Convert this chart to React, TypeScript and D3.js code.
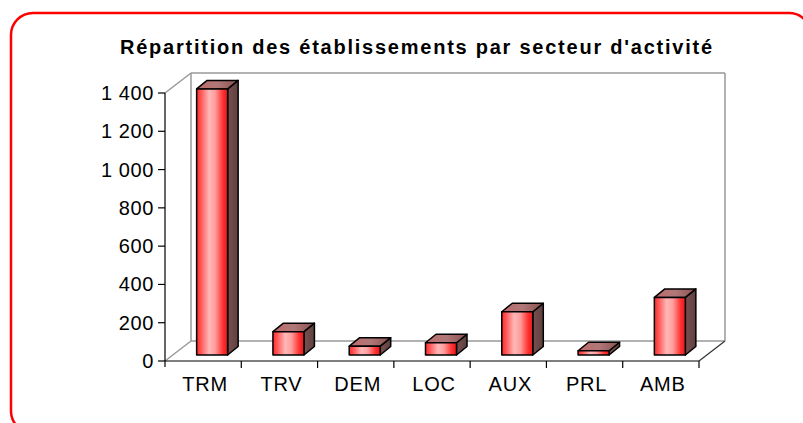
import React from "react";
import * as d3 from "d3";

const categories = ["TRM", "TRV", "DEM", "LOC", "AUX", "PRL", "AMB"];
const values = [1390, 122, 46, 64, 226, 22, 301];
const yTicks = [0, 200, 400, 600, 800, 1000, 1200, 1400];
const yTickLabels = ["0", "200", "400", "600", "800", "1 000", "1 200", "1 400"];
const title = "Répartition des établissements par secteur d'activité";

export default function App() {
  const W = 803, H = 423;
  const x0 = 165, x1 = 699, yBase = 361, yTop = 93;
  const depth = { dx: 26, dy: -20 };
  const front = { dx: 9, dy: -6 };
  const bd = { dx: 10.5, dy: -8.5 };
  const barW = 31;

  const x = d3.scaleBand<string>().domain(categories).range([x0, x1]).padding(0);
  const y = d3.scaleLinear().domain([0, 1400]).range([yBase, yTop]);
  const bw = x.bandwidth();

  const fmt = (i: number) => yTickLabels[i];

  return (
    <svg width={W} height={H} style={{ position: "fixed", left: 0, top: 0, background: "#fff" }}
      fontFamily="Arial, 'Liberation Sans', sans-serif">
      <defs>
        <linearGradient id="gFront" x1="0" x2="1" y1="0" y2="0">
          <stop offset="0" stopColor="#ff2a2a" />
          <stop offset="0.15" stopColor="#ff5a5a" />
          <stop offset="0.4" stopColor="#ffb8b8" />
          <stop offset="0.6" stopColor="#ff9c9c" />
          <stop offset="0.85" stopColor="#ff3030" />
          <stop offset="1" stopColor="#e81818" />
        </linearGradient>
        <linearGradient id="gTop" x1="0" x2="1" y1="0" y2="0">
          <stop offset="0" stopColor="#c06a6a" />
          <stop offset="0.5" stopColor="#b07878" />
          <stop offset="1" stopColor="#8a5050" />
        </linearGradient>
        <linearGradient id="gSide" x1="0" x2="1" y1="0" y2="0">
          <stop offset="0" stopColor="#7a5050" />
          <stop offset="1" stopColor="#5e4040" />
        </linearGradient>
      </defs>
      <rect x={11} y={13} width={800} height={420} rx={22} ry={22} fill="#fff" stroke="#ff0000" strokeWidth={2.5} />
      <text x={416} y={54} textAnchor="middle" fontWeight="bold" fontSize={20} textLength={592} lengthAdjust="spacing">{title}</text>

      {/* back wall */}
      <g stroke="#999" strokeWidth={1.5} fill="none">
        <line x1={x0 + depth.dx} y1={yTop + depth.dy} x2={x1 + depth.dx} y2={yTop + depth.dy} />
        <line x1={x0 + depth.dx} y1={yTop + depth.dy} x2={x0 + depth.dx} y2={yBase + depth.dy} />
        <line x1={x1 + depth.dx} y1={yTop + depth.dy} x2={x1 + depth.dx} y2={yBase + depth.dy} />
        <line x1={x0 + depth.dx} y1={yBase + depth.dy} x2={x1 + depth.dx} y2={yBase + depth.dy} />
        <line x1={x0} y1={yTop} x2={x0 + depth.dx} y2={yTop + depth.dy} />
        <line x1={x0} y1={yBase} x2={x0 + depth.dx} y2={yBase + depth.dy} />
      </g>
      <line x1={x1} y1={yBase} x2={x1 + depth.dx} y2={yBase + depth.dy} stroke="#333" strokeWidth={1.2} />

      {/* bars */}
      {categories.map((c, i) => {
        const v = values[i];
        const l = (x(c) as number) + bw / 2 - barW / 2 + front.dx;
        const r = l + barW;
        const t = y(v) + front.dy;
        const b = yBase + front.dy;
        const pts = (a: number[][]) => a.map((p) => p.join(",")).join(" ");
        return (
          <g key={c} stroke="#000" strokeWidth={1.5} strokeLinejoin="round">
            <polygon fill="url(#gSide)" points={pts([[r, t], [r + bd.dx, t + bd.dy], [r + bd.dx, b + bd.dy], [r, b]])} />
            <polygon fill="url(#gTop)" points={pts([[l, t], [r, t], [r + bd.dx, t + bd.dy], [l + bd.dx, t + bd.dy]])} />
            <rect x={l} y={t} width={barW} height={b - t} fill="url(#gFront)" />
          </g>
        );
      })}

      {/* axes */}
      <g stroke="#000" strokeWidth={1.2}>
        <line x1={x0} y1={yTop} x2={x0} y2={yBase + 6} />
        <line x1={x0} y1={yBase} x2={x1} y2={yBase} />
        {yTicks.map((t) => (
          <line key={t} x1={x0 - 7} x2={x0} y1={y(t)} y2={y(t)} />
        ))}
        {categories.map((c, i) => (
          <line key={c} x1={(x(c) as number) + bw} x2={(x(c) as number) + bw} y1={yBase} y2={yBase + 7} />
        ))}
      </g>
      <g fontSize={20} fill="#000">
        {yTicks.map((t, i) => (
          <text key={t} x={154} y={y(t) + 7} textAnchor="end" letterSpacing={0.6}>{fmt(i)}</text>
        ))}
        {categories.map((c) => (
          <text key={c} x={(x(c) as number) + bw / 2 + 2} y={391} textAnchor="middle" letterSpacing={0.8}>{c}</text>
        ))}
      </g>
    </svg>
  );
}
